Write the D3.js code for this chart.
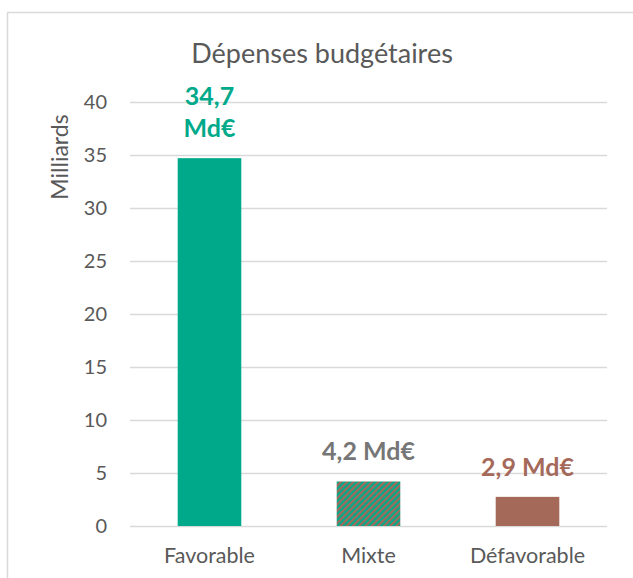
<!DOCTYPE html>
<html>
<head>
<meta charset="utf-8">
<script src="https://cdn.jsdelivr.net/npm/d3@7"></script>
<style>
  body { margin: 0; background: #fff; }
  text { font-family: Lato, "Open Sans", sans-serif; }
</style>
</head>
<body>
<script>
// Dépenses budgétaires - bar chart

const w = 633;
const h = 578;

// data
const categories = ["Favorable", "Mixte", "Défavorable"];
const values = [34.7, 4.2, 2.75];
const valueLabels = [["34,7", "Md€"], ["4,2 Md€"], ["2,9 Md€"]];
const yTicks = [0, 5, 10, 15, 20, 25, 30, 35, 40];

const green = "#00a98a";
const brown = "#a5695a";
const labelColors = [green, "#767676", brown];

const plot = { left: 130, right: 607, top: 102, bottom: 526 };

const svg = d3.select("body").append("svg")
  .attr("width", w)
  .attr("height", h);

// hatch for the mixed bar
const defs = svg.append("defs");
const pat = defs.append("pattern")
  .attr("id", "hatch")
  .attr("patternUnits", "userSpaceOnUse")
  .attr("width", 4.4)
  .attr("height", 4.4)
  .attr("patternTransform", "rotate(45)");
pat.append("rect").attr("width", 4.4).attr("height", 4.4).attr("fill", green);
pat.append("rect").attr("width", 2.2).attr("height", 4.4).attr("fill", brown);

const fills = [green, "url(#hatch)", brown];

// chart frame
svg.append("rect")
  .attr("x", 7.5).attr("y", 12.5)
  .attr("width", 700).attr("height", 700)
  .attr("fill", "none")
  .attr("stroke", "#d9d9d9")
  .attr("stroke-width", 1.5);

const x = d3.scaleBand()
  .domain(categories)
  .range([plot.left, plot.right])
  .paddingInner(0.6)
  .paddingOuter(0.3);

const y = d3.scaleLinear()
  .domain([0, 40])
  .range([plot.bottom, plot.top]);

// gridlines
svg.append("g")
  .selectAll("line")
  .data(yTicks)
  .join("line")
  .attr("x1", plot.left).attr("x2", plot.right)
  .attr("y1", d => y(d) + 0.5).attr("y2", d => y(d) + 0.5)
  .attr("stroke", "#d9d9d9")
  .attr("stroke-width", 1.3);

// left axis
const leftAxis = d3.axisLeft(y).tickValues(yTicks).tickSize(0).tickPadding(0);
const gy = svg.append("g")
  .attr("transform", "translate(107,0)")
  .call(leftAxis);
gy.select(".domain").remove();
gy.selectAll("text")
  .attr("fill", "#595959")
  .style("font-size", "20px");

// bottom axis
const bottomAxis = d3.axisBottom(x).tickSize(0).tickPadding(0);
const gx = svg.append("g")
  .attr("transform", "translate(0,563)")
  .call(bottomAxis);
gx.select(".domain").remove();
gx.selectAll("text")
  .attr("y", 0)
  .attr("dy", 0)
  .attr("fill", "#595959")
  .style("font-size", "21.5px");

// bars
svg.selectAll("rect.bar")
  .data(values)
  .join("rect")
  .attr("class", "bar")
  .attr("x", (d, i) => x(categories[i]))
  .attr("y", d => y(d))
  .attr("width", x.bandwidth())
  .attr("height", d => y(0) - y(d))
  .attr("fill", (d, i) => fills[i]);

// value labels
const lbl = svg.selectAll("text.val")
  .data(values)
  .join("text")
  .attr("class", "val")
  .attr("text-anchor", "middle")
  .attr("fill", (d, i) => labelColors[i])
  .style("font-size", "25px")
  .style("font-weight", "bold");

lbl.each(function(d, i) {
  const lines = valueLabels[i];
  const cx = x(categories[i]) + x.bandwidth() / 2;
  const base = y(d) - 21;
  d3.select(this).selectAll("tspan")
    .data(lines)
    .join("tspan")
    .attr("x", cx)
    .attr("y", (t, j) => base - (lines.length - 1 - j) * 32)
    .text(t => t);
});

// title
svg.append("text")
  .attr("x", 322)
  .attr("y", 63)
  .attr("text-anchor", "middle")
  .attr("fill", "#595959")
  .style("font-size", "27px")
  .text("Dépenses budgétaires");

// y axis title
svg.append("text")
  .attr("transform", "translate(68,157) rotate(-90)")
  .attr("text-anchor", "middle")
  .attr("fill", "#595959")
  .style("font-size", "23px")
  .text("Milliards");
</script>
</body>
</html>
